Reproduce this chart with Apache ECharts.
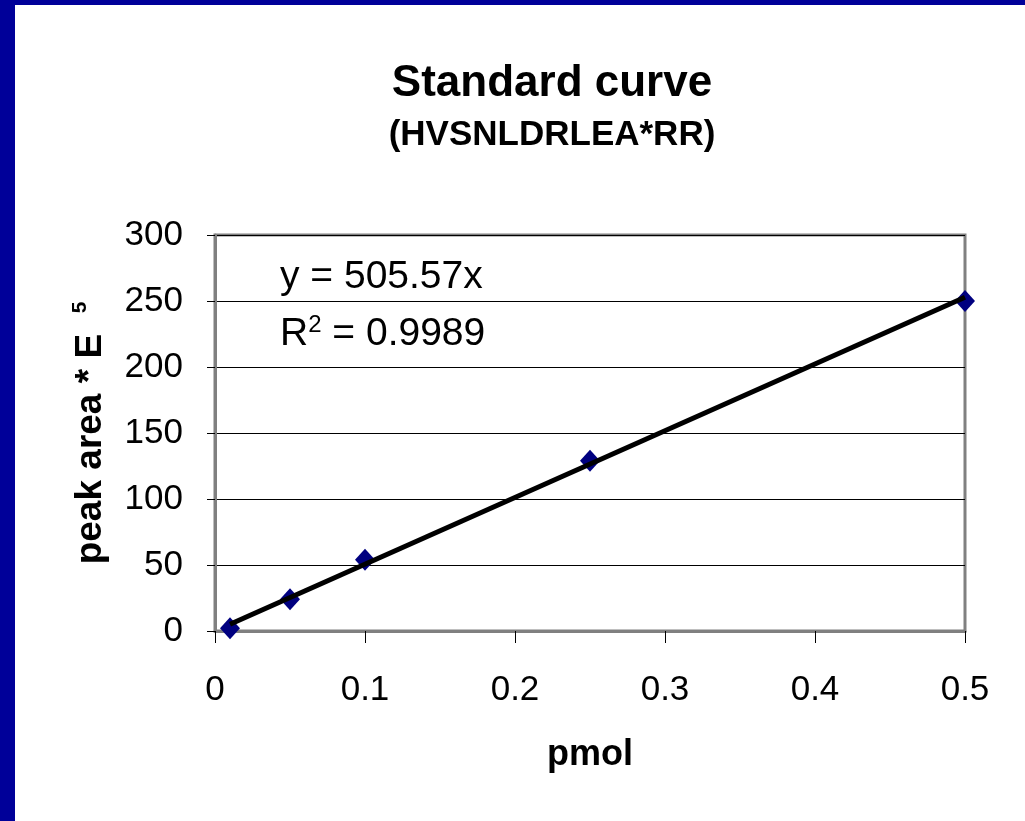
<!DOCTYPE html>
<html lang="en">
<head>
<meta charset="utf-8">
<title>Standard curve</title>
<script src="https://cdn.jsdelivr.net/npm/echarts@6/dist/echarts.min.js"></script>
<style>
  html, body { margin: 0; padding: 0; background: #fff; }
  #frame { position: absolute; left: 0; top: 0; width: 1025px; height: 821px;
           border-left: 15px solid #000099; border-top: 5px solid #000099; box-sizing: border-box; }
  #main { width: 1010px; height: 816px; }
</style>
</head>
<body>
<div id="frame"><div id="main"></div></div>
<script>
// measured points (pmol, peak area * E5)
var pmol = [0.01, 0.05, 0.1, 0.25, 0.5];
var peakArea = [2, 24, 54, 129, 250];
// linear trendline y = 505.57x, drawn over the data range
var trendX = [0.01, 0.5];
var trendY = [5.06, 252.79];

var fontName = 'Liberation Sans, Arial, sans-serif';

var chart = echarts.init(document.getElementById('main'));

var points = pmol.map(function (x, i) { return [x, peakArea[i]]; });
var trend = trendX.map(function (x, i) { return [x, trendY[i]]; });

var option = {
  backgroundColor: '#fff',
  animation: false,
  textStyle: { fontFamily: fontName, color: '#000' },
  title: {
    text: 'Standard curve',
    subtext: '(HVSNLDRLEA*RR)',
    left: 532,
    top: 52,
    textAlign: 'center',
    itemGap: 12,
    textStyle: { fontFamily: fontName, fontSize: 44, fontWeight: 'bold', color: '#000' },
    subtextStyle: { fontFamily: fontName, fontSize: 35, fontWeight: 'bold', color: '#000' }
  },
  grid: {
    left: 200, top: 230, right: 60, bottom: 190,
    show: true, borderColor: '#808080', borderWidth: 3, backgroundColor: '#fff'
  },
  xAxis: {
    type: 'value', min: 0, max: 0.5, interval: 0.1,
    name: 'pmol', nameLocation: 'middle', nameGap: 106,
    nameTextStyle: { fontFamily: fontName, fontSize: 36, fontWeight: 'bold', color: '#000' },
    axisLine: { show: true, lineStyle: { color: '#808080', width: 3 } },
    axisTick: { show: true, length: 12, lineStyle: { color: '#000', width: 1 } },
    axisLabel: { fontFamily: fontName, fontSize: 35, color: '#000', margin: 42 },
    splitLine: { show: false }
  },
  yAxis: {
    type: 'value', min: 0, max: 300, interval: 50,
    name: '{a|peak area * E  }{s|5}', nameLocation: 'middle', nameGap: 104, nameRotate: 90,
    nameTextStyle: {
      rich: {
        a: { fontFamily: fontName, fontSize: 37, fontWeight: 'bold', color: '#000' },
        s: { fontFamily: fontName, fontSize: 21, fontWeight: 'bold', color: '#000', padding: [0, 0, 20, 0] }
      }
    },
    axisLine: { show: true, lineStyle: { color: '#808080', width: 3 } },
    axisTick: { show: true, length: 8, lineStyle: { color: '#000', width: 1 } },
    axisLabel: { fontFamily: fontName, fontSize: 35, color: '#000', margin: 32 },
    splitLine: { show: true, lineStyle: { color: '#000', width: 1 } }
  },
  graphic: [
    {
      type: 'text', left: 265, top: 253,
      style: { text: 'y = 505.57x', font: '39px ' + fontName, fill: '#000' }
    },
    {
      type: 'text', left: 265, top: 308,
      style: {
        text: '{a|R}{s|2}{a| = 0.9989}',
        fill: '#000',
        rich: {
          a: { fontFamily: fontName, fontSize: 39, fill: '#000' },
          s: { fontFamily: fontName, fontSize: 24, fill: '#000', padding: [0, 0, 18, 0] }
        }
      }
    }
  ],
  series: [
    {
      type: 'scatter',
      data: points,
      symbol: 'diamond',
      symbolSize: [20, 22],
      itemStyle: { color: '#000080', opacity: 1 },
      z: 2
    },
    {
      type: 'line',
      data: trend,
      symbol: 'none',
      lineStyle: { color: '#000', width: 5 },
      z: 3
    }
  ]
};

chart.setOption(option);
</script>
</body>
</html>
